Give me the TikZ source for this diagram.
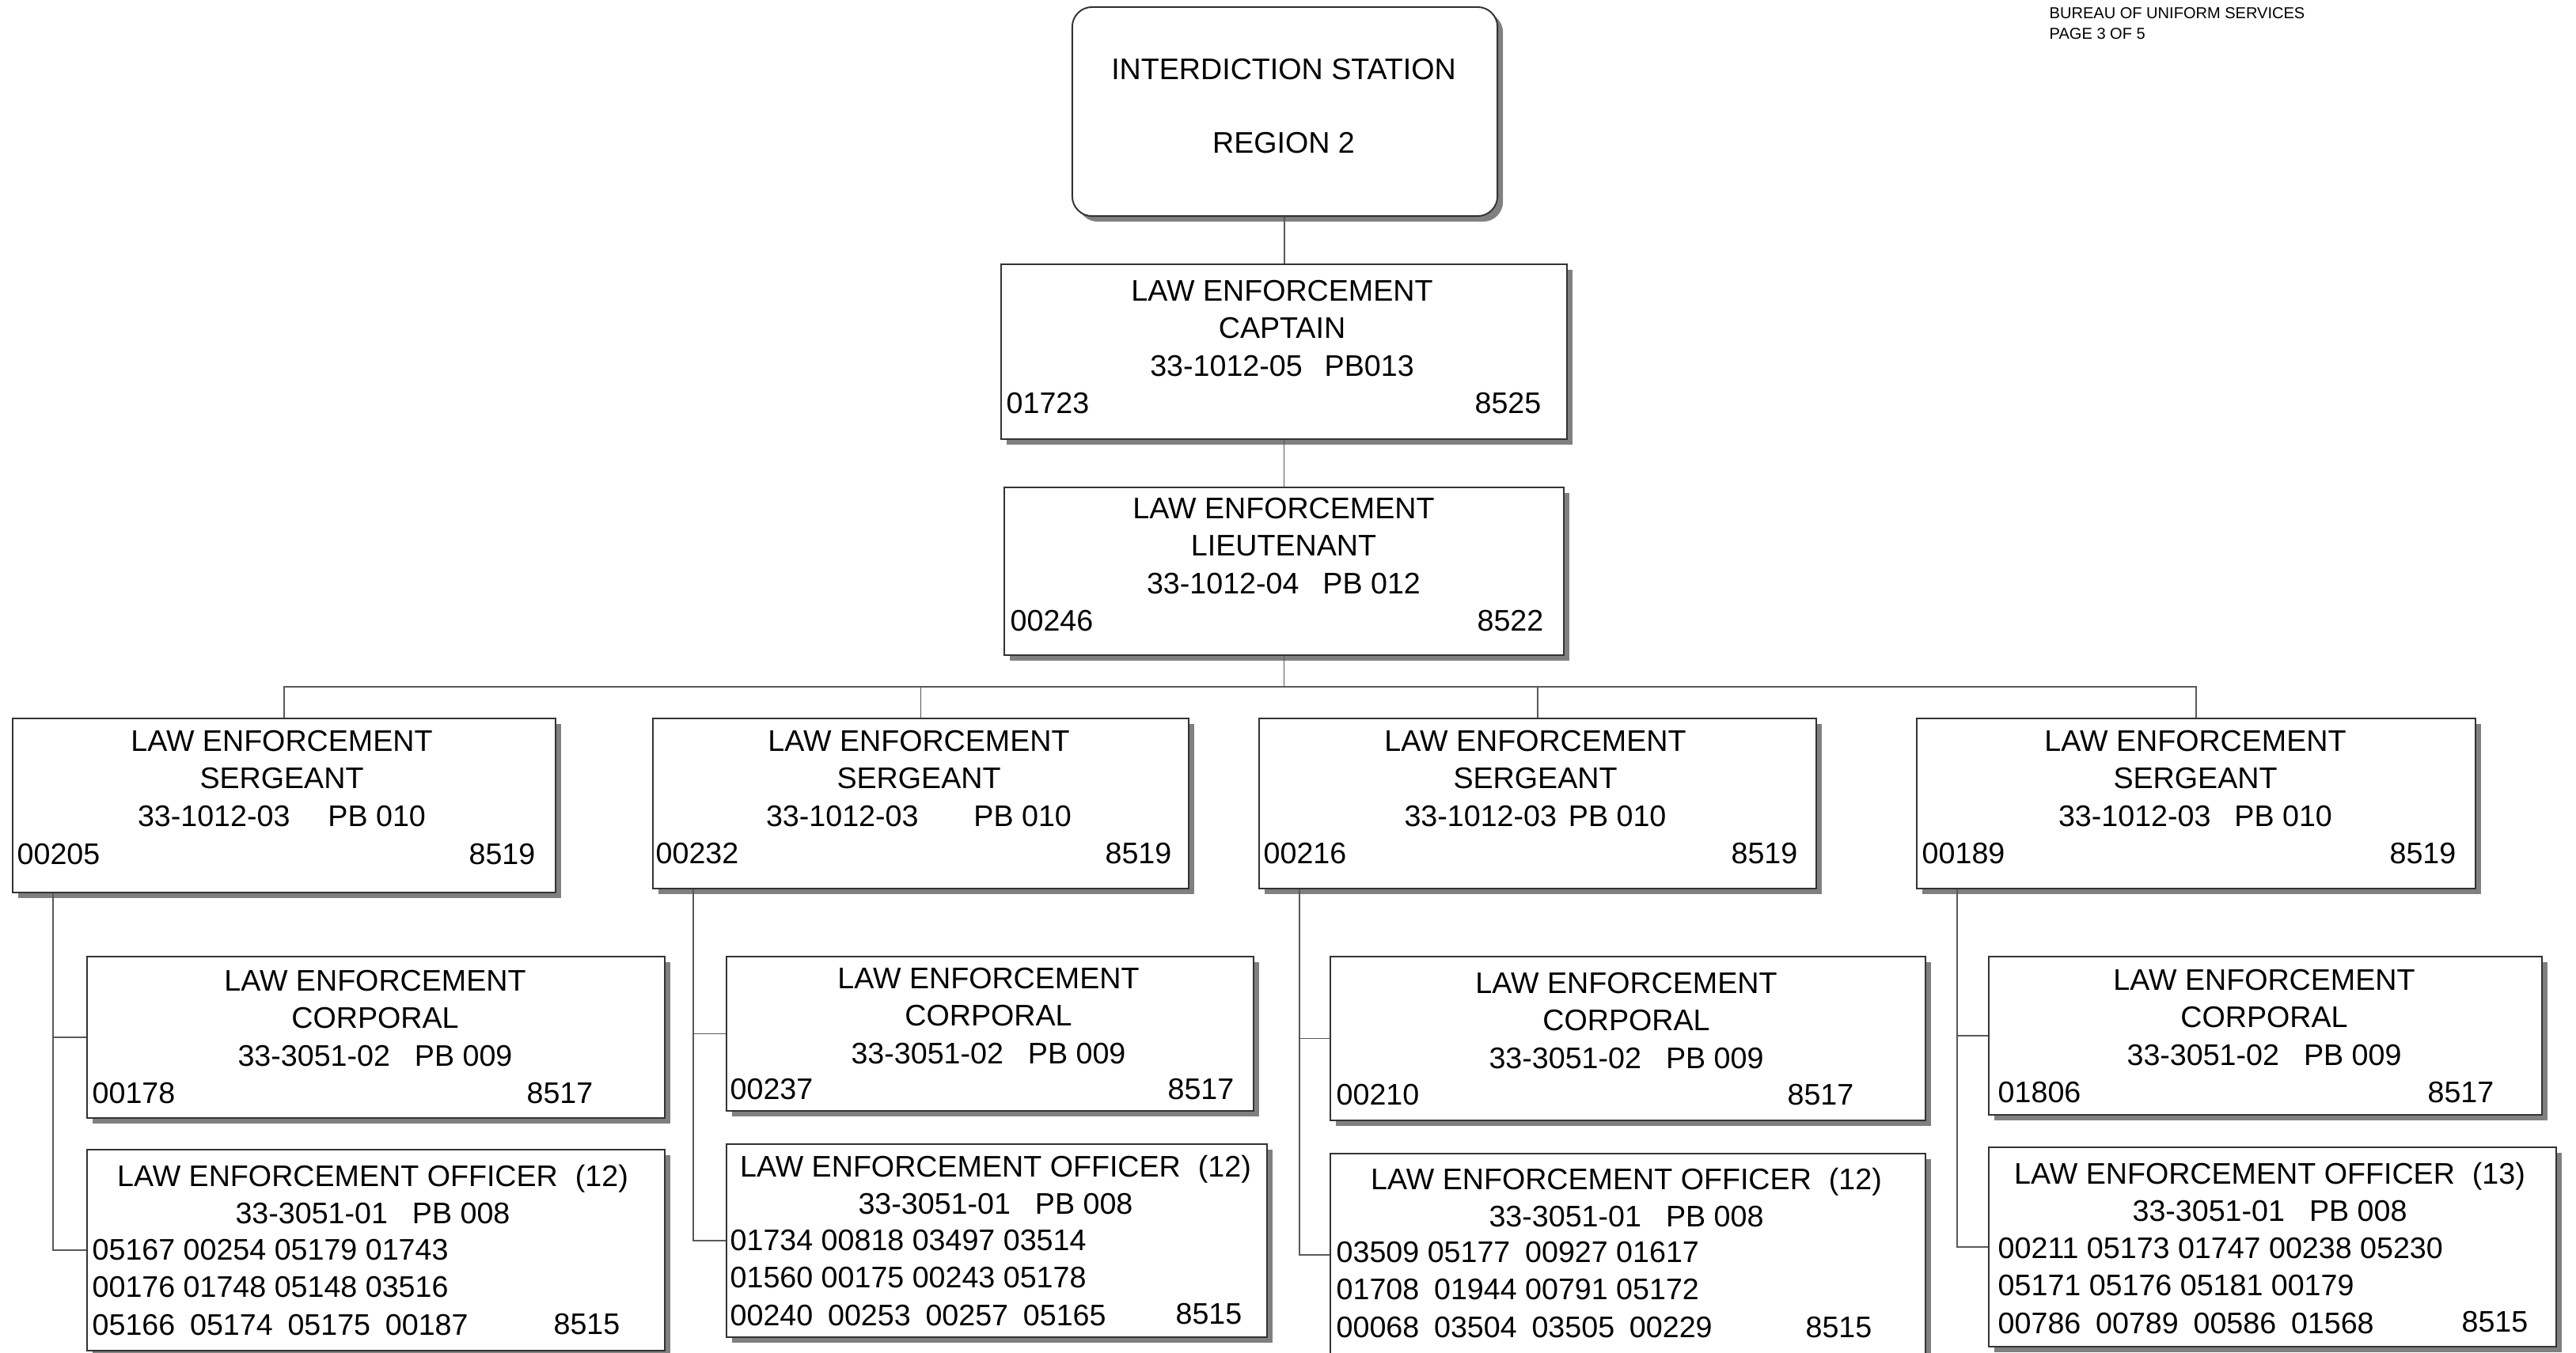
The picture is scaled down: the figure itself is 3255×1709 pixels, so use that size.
\documentclass[tikz,border=0pt]{standalone}
\usepackage{fontspec}
\setmainfont{Liberation Sans}
\usetikzlibrary{shadows}

\begin{document}
\begin{tikzpicture}[x=0.01cm, y=-0.01cm,
    post/.style={draw=black!80, line width=0.55pt, fill=white, inner sep=0pt,
      drop shadow={shadow xshift=0.07cm, shadow yshift=-0.07cm, fill=black!50, opacity=1}},
    txt/.style={font=\fontsize{10.7}{13.4}\selectfont, inner sep=0pt, align=center},
    nums/.style={font=\fontsize{10.7}{13.4}\selectfont, inner sep=0pt, align=left, anchor=west},
    link/.style={draw=black!65, line width=0.5pt}]
    \useasboundingbox (0,0) rectangle (3255,1709);

    \node[anchor=north west, inner sep=0pt, align=left, font=\fontsize{5.7}{7.3}\selectfont] (head) at (2589,9) {BUREAU OF UNIFORM SERVICES\\PAGE 3 OF 5};

    \node[post, rounded corners=0.25cm, minimum width=5.37cm, minimum height=2.64cm] (station) at (1623.5,141) {};
    \node[txt] (station_t) at (1622,134) {INTERDICTION STATION\\[13.3pt]REGION 2};

    \node[post, minimum width=7.15cm, minimum height=2.21cm] (capt) at (1622.5,444.5) {};
    \node[txt] (capt_t) at (1620,415) {LAW ENFORCEMENT\\CAPTAIN\\33-1012-05\hspace{0.28cm}PB013};
    \node[txt, anchor=west] (capt_id) at (1271,510) {01723};
    \node[txt, anchor=east] (capt_org) at (1948,510) {8525};

    \node[post, minimum width=7.07cm, minimum height=2.12cm] (lieut) at (1622.5,722) {};
    \node[txt] (lieut_t) at (1622,690) {LAW ENFORCEMENT\\LIEUTENANT\\33-1012-04\hspace{0.30cm}PB 012};
    \node[txt, anchor=west] (lieut_id) at (1276,785) {00246};
    \node[txt, anchor=east] (lieut_org) at (1951,785) {8522};

    \coordinate (bus) at (1622.5,868);

    \node[post, minimum width=6.86cm, minimum height=2.20cm] (sgt_1) at (359,1018) {};
    \node[txt] (sgt_1t) at (356,984) {LAW ENFORCEMENT\\SERGEANT\\33-1012-03\hspace{0.48cm}PB 010};
    \node[txt, anchor=west] (sgt_1id) at (21,1080) {00205};
    \node[txt, anchor=east] (sgt_1org) at (677,1080) {8519};

    \node[post, minimum width=6.77cm, minimum height=2.15cm] (sgt_2) at (1163.5,1015.5) {};
    \node[txt] (sgt_2t) at (1161,984) {LAW ENFORCEMENT\\SERGEANT\\33-1012-03\hspace{0.70cm}PB 010};
    \node[txt, anchor=west] (sgt_2id) at (828,1079) {00232};
    \node[txt, anchor=east] (sgt_2org) at (1481,1079) {8519};

    \node[post, minimum width=7.04cm, minimum height=2.15cm] (sgt_3) at (1943,1015.5) {};
    \node[txt] (sgt_3t) at (1940,984) {LAW ENFORCEMENT\\SERGEANT\\33-1012-03\hspace{0.15cm}PB 010};
    \node[txt, anchor=west] (sgt_3id) at (1596,1079) {00216};
    \node[txt, anchor=east] (sgt_3org) at (2272,1079) {8519};

    \node[post, minimum width=7.06cm, minimum height=2.15cm] (sgt_4) at (2775,1015.5) {};
    \node[txt] (sgt_4t) at (2774,984) {LAW ENFORCEMENT\\SERGEANT\\33-1012-03\hspace{0.30cm}PB 010};
    \node[txt, anchor=west] (sgt_4id) at (2428,1079) {00189};
    \node[txt, anchor=east] (sgt_4org) at (3104,1079) {8519};

    \node[post, minimum width=7.30cm, minimum height=2.04cm] (cpl_1) at (475,1311) {};
    \node[txt] (cpl_1t) at (474,1287) {LAW ENFORCEMENT\\CORPORAL\\33-3051-02\hspace{0.31cm}PB 009};
    \node[txt, anchor=west] (cpl_1id) at (116,1382) {00178};
    \node[txt, anchor=east] (cpl_1org) at (750,1382) {8517};

    \node[post, minimum width=6.66cm, minimum height=1.95cm] (cpl_2) at (1251,1306.5) {};
    \node[txt] (cpl_2t) at (1249,1284) {LAW ENFORCEMENT\\CORPORAL\\33-3051-02\hspace{0.31cm}PB 009};
    \node[txt, anchor=west] (cpl_2id) at (922,1377) {00237};
    \node[txt, anchor=east] (cpl_2org) at (1560,1377) {8517};

    \node[post, minimum width=7.52cm, minimum height=2.07cm] (cpl_3) at (2057,1312.5) {};
    \node[txt] (cpl_3t) at (2055,1290) {LAW ENFORCEMENT\\CORPORAL\\33-3051-02\hspace{0.31cm}PB 009};
    \node[txt, anchor=west] (cpl_3id) at (1688,1384) {00210};
    \node[txt, anchor=east] (cpl_3org) at (2343,1384) {8517};

    \node[post, minimum width=6.99cm, minimum height=2.00cm] (cpl_4) at (2862.5,1309) {};
    \node[txt] (cpl_4t) at (2861,1286) {LAW ENFORCEMENT\\CORPORAL\\33-3051-02\hspace{0.31cm}PB 009};
    \node[txt, anchor=west] (cpl_4id) at (2524,1381) {01806};
    \node[txt, anchor=east] (cpl_4org) at (3152,1381) {8517};

    \node[post, minimum width=7.30cm, minimum height=2.54cm] (ofc_1) at (475,1580) {};
    \node[txt] (ofc_1t) at (471,1509.5) {LAW ENFORCEMENT OFFICER\hspace{0.22cm}(12)\\33-3051-01\hspace{0.31cm}PB 008};
    \node[nums] (ofc_1id) at (116,1627) {05167 00254 05179 01743\\00176 01748 05148 03516\\05166\enspace 05174\enspace 05175\enspace 00187};
    \node[txt, anchor=east] (ofc_1org) at (784,1674) {8515};

    \node[post, minimum width=6.83cm, minimum height=2.44cm] (ofc_2) at (1259.5,1568) {};
    \node[txt] (ofc_2t) at (1258,1497.5) {LAW ENFORCEMENT OFFICER\hspace{0.22cm}(12)\\33-3051-01\hspace{0.31cm}PB 008};
    \node[nums] (ofc_2id) at (922,1615) {01734 00818 03497 03514\\01560 00175 00243 05178\\00240\enspace 00253\enspace 00257\enspace 05165};
    \node[txt, anchor=east] (ofc_2org) at (1570,1661) {8515};

    \node[post, minimum width=7.52cm, minimum height=2.56cm] (ofc_3) at (2057,1586) {};
    \node[txt] (ofc_3t) at (2055,1513.5) {LAW ENFORCEMENT OFFICER\hspace{0.22cm}(12)\\33-3051-01\hspace{0.31cm}PB 008};
    \node[nums] (ofc_3id) at (1688,1630) {03509 05177\enspace 00927 01617\\01708\enspace 01944 00791 05172\\00068\enspace 03504\enspace 03505\enspace 00229};
    \node[txt, anchor=east] (ofc_3org) at (2366,1678) {8515};

    \node[post, minimum width=7.17cm, minimum height=2.52cm] (ofc_4) at (2871.5,1576) {};
    \node[txt] (ofc_4t) at (2868,1506.5) {LAW ENFORCEMENT OFFICER\hspace{0.22cm}(13)\\33-3051-01\hspace{0.31cm}PB 008};
    \node[nums] (ofc_4id) at (2524,1625) {00211 05173 01747 00238 05230\\05171 05176 05181 00179\\00786\enspace 00789\enspace 00586\enspace 01568};
    \node[txt, anchor=east] (ofc_4org) at (3195,1671) {8515};

    \draw[link] (station) -- (capt);
    \draw[link] (capt) -- (lieut);
    \draw[link] (lieut) -- (bus);
    \foreach \s in {1,...,4} {
        \draw[link] (bus) -| (sgt_\s);
        \draw[link] ([xshift=0.52cm]sgt_\s.south west) |- (cpl_\s);
        \draw[link] ([xshift=0.52cm]sgt_\s.south west) |- (ofc_\s);
    }
\end{tikzpicture}
\end{document}
